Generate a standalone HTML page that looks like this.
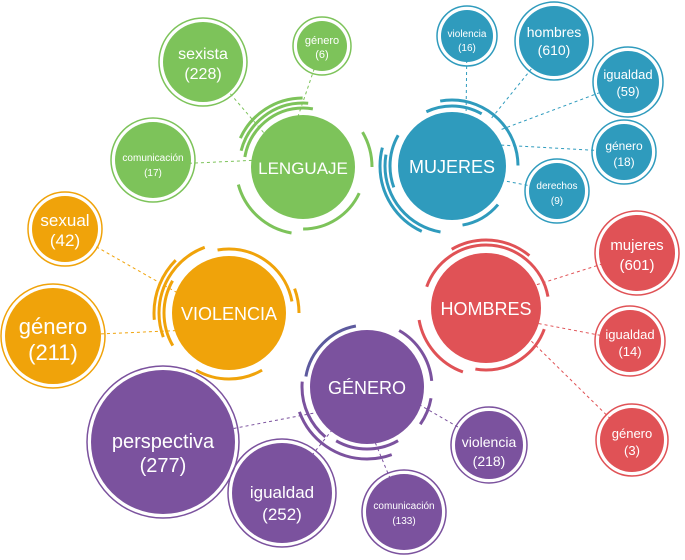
<!DOCTYPE html>
<html><head><meta charset="utf-8"><style>
html,body{margin:0;padding:0;background:#fff;}
svg{display:block;font-family:"Liberation Sans","DejaVu Sans",sans-serif;}
text{fill:#fff;text-anchor:middle;}
</style></head><body>
<svg width="685" height="560" viewBox="0 0 685 560">
<g stroke-dasharray="3 3" stroke-width="1" fill="none">
<line x1="203" y1="62" x2="270" y2="140" stroke="#7dc35a"/>
<line x1="322" y1="46" x2="290" y2="140" stroke="#7dc35a"/>
<line x1="153" y1="165" x2="260" y2="160" stroke="#7dc35a"/>
<line x1="467" y1="36" x2="466" y2="120" stroke="#2f9bbd"/>
<line x1="554" y1="41" x2="490" y2="120" stroke="#2f9bbd"/>
<line x1="628" y1="82" x2="500" y2="130" stroke="#2f9bbd"/>
<line x1="624" y1="152" x2="500" y2="145" stroke="#2f9bbd"/>
<line x1="557" y1="191" x2="500" y2="180" stroke="#2f9bbd"/>
<line x1="65" y1="229" x2="190" y2="300" stroke="#f0a30a"/>
<line x1="53" y1="336" x2="190" y2="330" stroke="#f0a30a"/>
<line x1="637" y1="253" x2="520" y2="290" stroke="#e05256"/>
<line x1="630" y1="341" x2="520" y2="320" stroke="#e05256"/>
<line x1="632" y1="440" x2="520" y2="330" stroke="#e05256"/>
<line x1="489" y1="445" x2="420" y2="405" stroke="#7b529e"/>
<line x1="163" y1="442" x2="330" y2="410" stroke="#7b529e"/>
<line x1="282" y1="493" x2="340" y2="420" stroke="#7b529e"/>
<line x1="404" y1="512" x2="370" y2="430" stroke="#7b529e"/>
</g>

<g fill="none" stroke-width="3" >
<g stroke="#7dc35a">
<circle cx="303" cy="167" r="59" pathLength="360" stroke-dasharray="0 190 90 80"/>
<circle cx="303" cy="167" r="64" pathLength="360" stroke-dasharray="0 195 80 85"/>
<circle cx="303" cy="167" r="69" pathLength="360" stroke-dasharray="0 205 65 90"/>
<circle cx="303" cy="167" r="62" pathLength="360" stroke-dasharray="0 25 65 270"/>
<circle cx="303" cy="167" r="69" pathLength="360" stroke-dasharray="0 330 60 0"/>
<circle cx="303" cy="167" r="67" pathLength="360" stroke-dasharray="0 100 65 195"/>
</g>
<g stroke="#2f9bbd">
<circle cx="452" cy="166" r="62" pathLength="360" stroke-dasharray="0 160 50 150"/>
<circle cx="452" cy="166" r="67" pathLength="360" stroke-dasharray="0 100 90 170"/>
<circle cx="452" cy="166" r="72" pathLength="360" stroke-dasharray="0 115 80 165"/>
<circle cx="452" cy="166" r="60" pathLength="360" stroke-dasharray="0 245 55 60"/>
<circle cx="452" cy="166" r="66" pathLength="360" stroke-dasharray="0 260 100 0"/>
<circle cx="452" cy="166" r="60" pathLength="360" stroke-dasharray="0 40 40 280"/>
</g>
<g stroke="#f0a30a">
<circle cx="229" cy="313" r="65" pathLength="360" stroke-dasharray="0 150 60 150"/>
<circle cx="229" cy="313" r="70" pathLength="360" stroke-dasharray="0 160 90 110"/>
<circle cx="229" cy="313" r="75" pathLength="360" stroke-dasharray="0 175 50 135"/>
<circle cx="229" cy="313" r="64" pathLength="360" stroke-dasharray="0 260 90 10"/>
<circle cx="229" cy="313" r="70" pathLength="360" stroke-dasharray="0 340 60 0"/>
<circle cx="229" cy="313" r="66" pathLength="360" stroke-dasharray="0 60 60 240"/>
</g>
<g stroke="#e05256">
<circle cx="486" cy="308" r="63" pathLength="360" stroke-dasharray="0 200 150 10"/>
<circle cx="486" cy="308" r="68" pathLength="360" stroke-dasharray="0 240 70 50"/>
<circle cx="486" cy="308" r="62" pathLength="360" stroke-dasharray="0 20 80 260"/>
<circle cx="486" cy="308" r="68" pathLength="360" stroke-dasharray="0 110 60 190"/>
</g>
<g stroke="#7b529e">
<circle cx="367" cy="387" r="65" pathLength="360" stroke-dasharray="0 300 55 5"/>
<circle cx="367" cy="387" r="65" pathLength="360" stroke-dasharray="0 10 25 325"/>
<circle cx="367" cy="387" r="62" pathLength="360" stroke-dasharray="0 60 60 240"/>
<circle cx="367" cy="387" r="72" pathLength="360" stroke-dasharray="0 70 90 200"/>
<circle cx="367" cy="387" r="65" pathLength="360" stroke-dasharray="0 130 55 175"/>
<circle cx="367" cy="387" r="62" pathLength="360" stroke-dasharray="0 190 70 100" stroke="#5d5a9e"/>
</g>
</g>

<circle cx="303" cy="167" r="52" fill="#7dc35a"/>
<text x="303" y="174" font-size="17">LENGUAJE</text>
<circle cx="452" cy="166" r="54" fill="#2f9bbd"/>
<text x="452" y="173" font-size="18">MUJERES</text>
<circle cx="229" cy="313" r="57" fill="#f0a30a"/>
<text x="229" y="320" font-size="18">VIOLENCIA</text>
<circle cx="486" cy="308" r="55" fill="#e05256"/>
<text x="486" y="315" font-size="18">HOMBRES</text>
<circle cx="367" cy="387" r="57" fill="#7b529e"/>
<text x="367" y="394" font-size="18">GÉNERO</text>

<g stroke-width="1.5" fill="none">
<circle cx="203" cy="62" r="44" stroke="#7dc35a"/>
<circle cx="322" cy="46" r="29" stroke="#7dc35a"/>
<circle cx="153" cy="160" r="42" stroke="#7dc35a"/>
<circle cx="467" cy="36" r="30" stroke="#2f9bbd"/>
<circle cx="554" cy="41" r="39" stroke="#2f9bbd"/>
<circle cx="628" cy="82" r="35" stroke="#2f9bbd"/>
<circle cx="624" cy="152" r="32" stroke="#2f9bbd"/>
<circle cx="557" cy="191" r="32" stroke="#2f9bbd"/>
<circle cx="65" cy="229" r="37" stroke="#f0a30a"/>
<circle cx="53" cy="336" r="52" stroke="#f0a30a"/>
<circle cx="637" cy="253" r="42" stroke="#e05256"/>
<circle cx="630" cy="341" r="35" stroke="#e05256"/>
<circle cx="632" cy="440" r="36" stroke="#e05256"/>
<circle cx="489" cy="445" r="38" stroke="#7b529e"/>
<circle cx="163" cy="442" r="76" stroke="#7b529e"/>
<circle cx="282" cy="493" r="54" stroke="#7b529e"/>
<circle cx="404" cy="512" r="42" stroke="#7b529e"/>
</g>
<circle cx="203" cy="62" r="40" fill="#7dc35a"/>
<circle cx="322" cy="46" r="25" fill="#7dc35a"/>
<circle cx="153" cy="160" r="38" fill="#7dc35a"/>
<circle cx="467" cy="36" r="26" fill="#2f9bbd"/>
<circle cx="554" cy="41" r="35" fill="#2f9bbd"/>
<circle cx="628" cy="82" r="31" fill="#2f9bbd"/>
<circle cx="624" cy="152" r="28" fill="#2f9bbd"/>
<circle cx="557" cy="191" r="28" fill="#2f9bbd"/>
<circle cx="65" cy="229" r="33" fill="#f0a30a"/>
<circle cx="53" cy="336" r="48" fill="#f0a30a"/>
<circle cx="637" cy="253" r="38" fill="#e05256"/>
<circle cx="630" cy="341" r="31" fill="#e05256"/>
<circle cx="632" cy="440" r="32" fill="#e05256"/>
<circle cx="489" cy="445" r="34" fill="#7b529e"/>
<circle cx="163" cy="442" r="72" fill="#7b529e"/>
<circle cx="282" cy="493" r="50" fill="#7b529e"/>
<circle cx="404" cy="512" r="38" fill="#7b529e"/>

<g>
<text x="203" y="59" font-size="16">sexista</text><text x="203" y="79" font-size="16">(228)</text>
<text x="322" y="44" font-size="11">género</text><text x="322" y="58" font-size="11">(6)</text>
<text x="153" y="161" font-size="10">comunicación</text><text x="153" y="176" font-size="10">(17)</text>
<text x="467" y="37" font-size="10">violencia</text><text x="467" y="51" font-size="10">(16)</text>
<text x="554" y="37" font-size="14">hombres</text><text x="554" y="55" font-size="14">(610)</text>
<text x="628" y="79" font-size="13">igualdad</text><text x="628" y="96" font-size="13">(59)</text>
<text x="624" y="150" font-size="12">género</text><text x="624" y="166" font-size="12">(18)</text>
<text x="557" y="189" font-size="10">derechos</text><text x="557" y="204" font-size="10">(9)</text>
<text x="65" y="226" font-size="17">sexual</text><text x="65" y="246" font-size="17">(42)</text>
<text x="53" y="334" font-size="22">género</text><text x="53" y="360" font-size="22">(211)</text>
<text x="637" y="250" font-size="15">mujeres</text><text x="637" y="270" font-size="15">(601)</text>
<text x="630" y="339" font-size="13">igualdad</text><text x="630" y="356" font-size="13">(14)</text>
<text x="632" y="438" font-size="13">género</text><text x="632" y="455" font-size="13">(3)</text>
<text x="489" y="447" font-size="14">violencia</text><text x="489" y="466" font-size="14">(218)</text>
<text x="163" y="448" font-size="20">perspectiva</text><text x="163" y="472" font-size="20">(277)</text>
<text x="282" y="498" font-size="17">igualdad</text><text x="282" y="520" font-size="17">(252)</text>
<text x="404" y="509" font-size="10">comunicación</text><text x="404" y="524" font-size="10">(133)</text>
</g>
</svg>
</body></html>
